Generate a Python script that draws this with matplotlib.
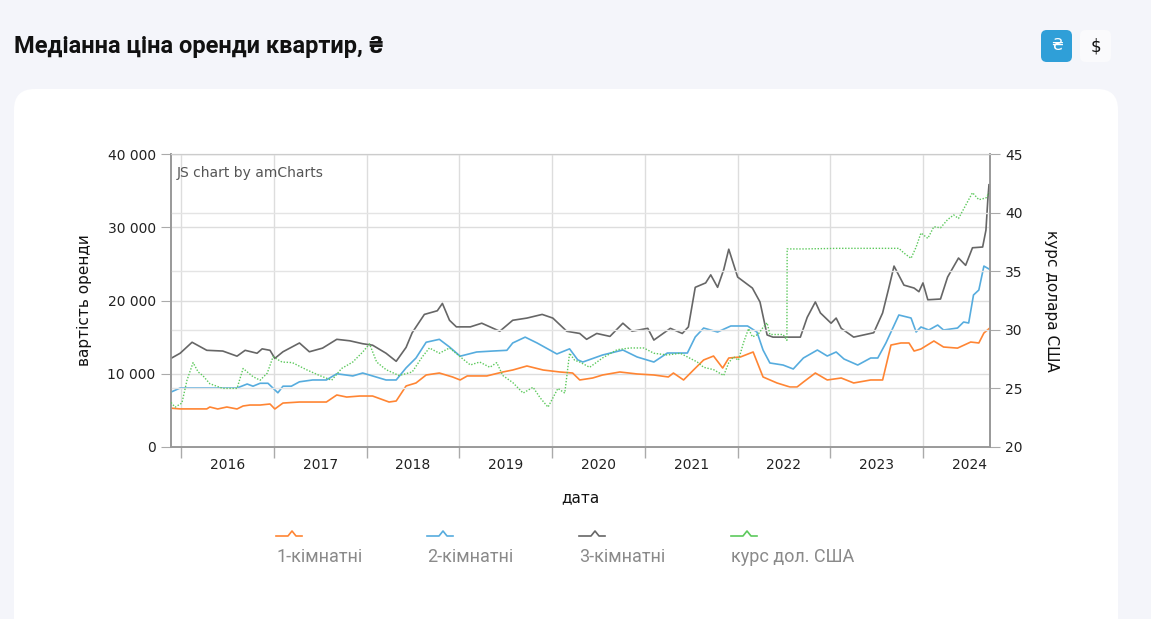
import numpy as np
import pandas as pd
import matplotlib
matplotlib.use("Agg")
import matplotlib.pyplot as plt
from matplotlib.patches import FancyBboxPatch
from matplotlib.lines import Line2D
from matplotlib.ticker import FuncFormatter, MultipleLocator

# --- data ---
room3_dates = ["2015-11-22", "2015-12-28", "2016-02-13", "2016-04-11", "2016-06-13", "2016-08-08",
               "2016-09-09", "2016-10-26", "2016-11-15", "2016-12-16", "2017-01-04", "2017-02-05",
               "2017-04-11", "2017-05-20", "2017-07-11", "2017-09-05", "2017-10-26", "2017-12-16",
               "2018-01-24", "2018-03-18", "2018-04-27", "2018-06-05", "2018-06-29", "2018-08-16",
               "2018-10-06", "2018-10-26", "2018-11-23", "2018-12-20", "2019-02-13", "2019-03-30",
               "2019-06-09", "2019-07-30", "2019-09-24", "2019-11-23", "2020-01-04", "2020-02-28",
               "2020-04-19", "2020-05-16", "2020-06-25", "2020-08-16", "2020-10-06", "2020-11-11",
               "2021-01-12", "2021-02-05", "2021-04-11", "2021-05-28", "2021-06-21", "2021-07-18",
               "2021-08-28", "2021-09-17", "2021-10-14", "2021-11-07", "2021-11-27", "2022-01-01",
               "2022-02-28", "2022-03-30", "2022-04-27", "2022-05-20", "2022-09-05", "2022-10-02",
               "2022-11-03", "2022-11-23", "2023-01-04", "2023-01-24", "2023-02-13", "2023-04-03",
               "2023-06-21", "2023-07-26", "2023-08-20", "2023-09-09", "2023-10-18", "2023-11-27",
               "2023-12-16", "2024-01-01", "2024-01-20", "2024-03-10", "2024-04-07", "2024-05-20",
               "2024-06-17", "2024-07-14", "2024-08-23", "2024-09-05", "2024-09-13", "2024-09-17"]
room3_vals = [12100, 12800, 14300, 13200, 13100, 12400,
              13200, 12800, 13400, 13200, 12100, 13000,
              14200, 13000, 13500, 14700, 14500, 14100,
              13900, 12800, 11700, 13600, 15600, 18100,
              18600, 19600, 17300, 16400, 16400, 16900,
              15800, 17300, 17600, 18100, 17600, 15800,
              15500, 14700, 15500, 15100, 16900, 15800,
              16200, 14600, 16200, 15500, 16400, 21800,
              22400, 23500, 21800, 24200, 27000, 23200,
              21700, 19800, 15300, 15000, 15000, 17700,
              19800, 18300, 16900, 17600, 16200, 15000,
              15600, 18300, 21800, 24700, 22100, 21700,
              21200, 22400, 20100, 20200, 23200, 25800,
              24800, 27200, 27300, 29600, 34100, 35800]

room2_dates = ["2015-11-22", "2015-12-28", "2016-06-02", "2016-08-08", "2016-09-17", "2016-10-10",
               "2016-11-07", "2016-12-08", "2017-01-16", "2017-02-05", "2017-03-10", "2017-04-11",
               "2017-06-02", "2017-07-26", "2017-09-05", "2017-11-07", "2017-12-16", "2018-01-24",
               "2018-03-18", "2018-04-27", "2018-06-05", "2018-07-14", "2018-08-23", "2018-10-14",
               "2018-11-23", "2019-01-04", "2019-03-10", "2019-05-12", "2019-07-07", "2019-07-30",
               "2019-09-17", "2019-11-03", "2020-01-20", "2020-03-10", "2020-04-11", "2020-05-01",
               "2020-07-18", "2020-10-06", "2020-12-01", "2021-02-05", "2021-03-30", "2021-06-17",
               "2021-07-18", "2021-08-20", "2021-10-14", "2021-12-05", "2022-02-09", "2022-03-18",
               "2022-04-11", "2022-05-08", "2022-06-29", "2022-08-08", "2022-09-17", "2022-11-11",
               "2022-12-20", "2023-01-24", "2023-02-24", "2023-04-19", "2023-06-09", "2023-07-07",
               "2023-08-08", "2023-09-28", "2023-11-15", "2023-12-05", "2023-12-24", "2024-01-24",
               "2024-02-28", "2024-03-22", "2024-05-16", "2024-06-09", "2024-06-29", "2024-07-18",
               "2024-08-08", "2024-08-28", "2024-09-17"]
room2_vals = [7500, 8050, 8050, 8050, 8600, 8300,
              8700, 8700, 7400, 8300, 8300, 8900,
              9150, 9150, 10000, 9700, 10100, 9700,
              9150, 9150, 10800, 12150, 14300, 14700,
              13650, 12400, 12970, 13100, 13200, 14200,
              15000, 14200, 12700, 13400, 11900, 11600,
              12560, 13240, 12290, 11600, 12830, 12830,
              15020, 16240, 15700, 16520, 16520, 15700,
              13240, 11470, 11190, 10650, 12150, 13240,
              12420, 12970, 12010, 11190, 12150, 12150,
              14200, 18020, 17610, 15700, 16380, 15970,
              16650, 15970, 16240, 17060, 16930, 20750,
              21430, 24700, 24300]

room1_dates = ["2015-11-22", "2015-12-28", "2016-04-11", "2016-04-23", "2016-05-24", "2016-06-29",
               "2016-08-08", "2016-09-01", "2016-09-28", "2016-11-07", "2016-12-16", "2017-01-04",
               "2017-02-05", "2017-04-11", "2017-07-26", "2017-09-05", "2017-10-14", "2017-12-05",
               "2018-01-24", "2018-03-30", "2018-04-27", "2018-06-05", "2018-07-14", "2018-08-23",
               "2018-10-14", "2018-12-05", "2019-01-04", "2019-02-01", "2019-04-19", "2019-06-21",
               "2019-07-30", "2019-09-24", "2019-11-27", "2020-02-01", "2020-03-22", "2020-04-19",
               "2020-06-09", "2020-07-18", "2020-09-24", "2020-12-01", "2021-02-05", "2021-04-03",
               "2021-04-23", "2021-06-02", "2021-07-11", "2021-08-20", "2021-09-28", "2021-11-03",
               "2021-11-27", "2022-01-12", "2022-03-03", "2022-04-11", "2022-06-05", "2022-07-26",
               "2022-08-23", "2022-09-17", "2022-11-03", "2022-12-20", "2023-02-13", "2023-04-03",
               "2023-06-09", "2023-07-26", "2023-08-28", "2023-10-06", "2023-11-07", "2023-11-27",
               "2023-12-24", "2024-02-13", "2024-03-22", "2024-05-16", "2024-07-07", "2024-08-08",
               "2024-08-28", "2024-09-20"]
room1_vals = [5300, 5200, 5200, 5460, 5190, 5460,
              5190, 5600, 5730, 5730, 5870, 5190,
              6000, 6140, 6140, 7100, 6820, 6960,
              6960, 6140, 6280, 8330, 8740, 9830,
              10100, 9560, 9150, 9700, 9700, 10240,
              10510, 11060, 10510, 10240, 10100, 9150,
              9420, 9830, 10240, 9970, 9830, 9560,
              10100, 9150, 10510, 11880, 12420, 10780,
              12150, 12290, 12970, 9560, 8740, 8190,
              8190, 8870, 10100, 9150, 9420, 8740,
              9150, 9150, 13920, 14200, 14200, 13100,
              13380, 14470, 13650, 13500, 14330, 14200,
              15560, 16240]

usd_dates = ["2015-11-22", "2015-12-08", "2016-01-04", "2016-01-24", "2016-02-17", "2016-03-08",
             "2016-03-26", "2016-04-23", "2016-06-13", "2016-08-08", "2016-09-01", "2016-10-10",
             "2016-11-07", "2016-12-05", "2016-12-28", "2017-02-01", "2017-03-14", "2017-05-08",
             "2017-06-29", "2017-08-16", "2017-09-24", "2017-11-07", "2017-12-16", "2018-01-12",
             "2018-02-09", "2018-03-18", "2018-05-08", "2018-06-29", "2018-08-08", "2018-09-05",
             "2018-10-14", "2018-11-23", "2019-01-04", "2019-02-13", "2019-03-22", "2019-05-01",
             "2019-05-28", "2019-06-21", "2019-07-30", "2019-09-09", "2019-10-18", "2019-11-15",
             "2019-12-16", "2020-01-24", "2020-02-20", "2020-03-10", "2020-03-30", "2020-04-19",
             "2020-05-28", "2020-07-18", "2020-09-13", "2020-11-03", "2020-12-27", "2021-02-05",
             "2021-03-30", "2021-05-20", "2021-07-26", "2021-08-20", "2021-09-28", "2021-11-07",
             "2021-11-27", "2021-12-16", "2022-01-04", "2022-01-24", "2022-02-13", "2022-02-28",
             "2022-03-22", "2022-04-11", "2022-04-27", "2022-05-08", "2022-06-29", "2022-07-14",
             "2022-07-15", "2022-09-17", "2023-02-01", "2023-06-09", "2023-09-28", "2023-10-18",
             "2023-11-15", "2023-12-05", "2023-12-24", "2024-01-20", "2024-02-13", "2024-03-10",
             "2024-04-07", "2024-05-01", "2024-05-20", "2024-07-14", "2024-08-08", "2024-09-05",
             "2024-09-17"]
usd_vals = [23.8, 23.4, 23.75, 25.7, 27.2, 26.4,
            26.1, 25.4, 25.0, 25.0, 26.7, 26.0,
            25.7, 26.3, 27.7, 27.25, 27.2, 26.6,
            26.1, 25.7, 26.7, 27.25, 28.1, 28.8,
            27.25, 26.6, 26.1, 26.4, 27.7, 28.45,
            28.0, 28.45, 27.7, 27.0, 27.25, 26.8,
            27.2, 26.1, 25.5, 24.6, 25.1, 24.2,
            23.4, 25.0, 24.6, 28.0, 27.4, 27.25,
            26.8, 27.6, 28.3, 28.45, 28.45, 28.0,
            27.85, 28.0, 27.25, 26.8, 26.6, 26.1,
            27.2, 27.7, 27.4, 28.9, 30.1, 29.4,
            29.6, 30.2, 30.6, 29.6, 29.6, 29.1,
            36.9, 36.9, 36.95, 36.95, 36.95, 36.55,
            36.1, 37.06, 38.26, 37.8, 38.8, 38.7,
            39.4, 39.8, 39.5, 41.7, 41.1, 41.25,
            41.7]

legend_labels = ["1-кімнатні", "2-кімнатні", "3-кімнатні", "курс дол. США"]
colors = ["#ff8533", "#56acde", "#666666", "#5cc95c"]
years = list(range(2016, 2025))

W, H = 1151, 619
fig = plt.figure(figsize=(W / 100, H / 100), dpi=100)
fig.patch.set_facecolor("#f4f5fa")

def fx(px):
    return px / W

def fy(py):
    return 1 - py / H

# white card
card = FancyBboxPatch((fx(14), fy(660)), fx(1104), (660 - 89) / H,
                      boxstyle="round,pad=0,rounding_size=0.018", transform=fig.transFigure,
                      facecolor="white", edgecolor="none", mutation_aspect=W / H, zorder=0)
fig.add_artist(card)

# title and currency buttons
fig.text(fx(14), fy(46), "Медіанна ціна оренди квартир, ₴", fontsize=17, fontweight="bold",
         family=["Roboto", "DejaVu Sans"], color="#111111", va="center", ha="left")
btn1 = FancyBboxPatch((fx(1041), fy(62)), fx(31), 32 / H, boxstyle="round,pad=0,rounding_size=0.005",
                      transform=fig.transFigure, facecolor="#2f9fd8", edgecolor="none", mutation_aspect=W / H)
btn2 = FancyBboxPatch((fx(1080), fy(62)), fx(31), 32 / H, boxstyle="round,pad=0,rounding_size=0.005",
                      transform=fig.transFigure, facecolor="#fafafc", edgecolor="none", mutation_aspect=W / H)
fig.add_artist(btn1)
fig.add_artist(btn2)
fig.text(fx(1056.5), fy(46), "₴", fontsize=11, color="white", ha="center", va="center",
         family=["DejaVu Sans"])
fig.text(fx(1095.5), fy(46), "$", fontsize=12, color="#111111", ha="center", va="center",
         family=["DejaVu Sans"])

# plot area
ax = fig.add_axes([fx(171), fy(447), fx(990 - 171), (447 - 154) / H])
ax.set_facecolor("none")
ax2 = ax.twinx()

def to_dt(lst):
    return pd.to_datetime(lst)

ax.plot(to_dt(room1_dates), room1_vals, color=colors[0], lw=1.2, zorder=3)
ax.plot(to_dt(room2_dates), room2_vals, color=colors[1], lw=1.2, zorder=3)
ax.plot(to_dt(room3_dates), room3_vals, color=colors[2], lw=1.2, zorder=3)
ax2.plot(to_dt(usd_dates), usd_vals, color=colors[3], lw=1.0, ls=(0, (1, 1.2)), zorder=3)

ax.set_xlim(pd.Timestamp("2015-11-22"), pd.Timestamp("2024-09-21"))
ax.set_ylim(0, 40000)
ax2.set_ylim(20, 45)
ax.yaxis.set_major_locator(MultipleLocator(10000))
ax2.yaxis.set_major_locator(MultipleLocator(5))
ax.yaxis.set_major_formatter(FuncFormatter(lambda v, p: f"{int(v):,}".replace(",", " ")))

ax.set_xticks([pd.Timestamp(f"{y}-01-01") for y in years])
ax.set_xticks([pd.Timestamp(f"{y}-07-02") for y in years], minor=True)
ax.set_xticklabels([])
ax.set_xticklabels([str(y) for y in years], minor=True)
ax.tick_params(axis="x", which="major", length=8, color="#aaaaaa", width=1)
ax.tick_params(axis="x", which="minor", length=0, labelsize=10, pad=8, colors="#222222")
ax.tick_params(axis="y", length=7, color="#aaaaaa", labelsize=10, labelcolor="#222222", pad=4)
ax2.tick_params(axis="y", length=7, color="#aaaaaa", labelsize=10, labelcolor="#222222", pad=4)

ax.grid(True, which="major", color="#dddddd", lw=1)
ax2.grid(True, axis="y", color="#e4e4e4", lw=1)
ax2.set_axisbelow(True)
ax.set_axisbelow(True)

for a in (ax, ax2):
    for side in ("left", "right", "bottom"):
        a.spines[side].set_color("#999999")
        a.spines[side].set_linewidth(1.2)
    a.spines["top"].set_color("#cccccc")

ax.set_ylabel("вартість оренди", fontsize=11, color="#111111", labelpad=11)
ax2.set_ylabel("курс долара США", fontsize=11, color="#111111", rotation=-90, labelpad=26)
ax.set_xlabel("дата", fontsize=11, color="#111111", labelpad=13)
ax.text(0.007, 0.96, "JS chart by amCharts", transform=ax.transAxes, fontsize=10,
        color="#555555", ha="left", va="top")

# legend with amCharts-style markers
leg_x = [276, 427, 579, 731]
for x0, lab, c in zip(leg_x, legend_labels, colors):
    xs = [x0, x0 + 12, x0 + 16, x0 + 20, x0 + 26]
    ys = [536, 536, 531, 536, 536]
    fig.add_artist(Line2D([fx(v) for v in xs], [fy(v) for v in ys], color=c, lw=1.2,
                          transform=fig.transFigure))
    fig.text(fx(x0), fy(557), lab, fontsize=13, color="#8a8a8a", ha="left", va="center",
             family=["Roboto", "DejaVu Sans"])

fig.savefig("out.png", dpi=100, facecolor=fig.get_facecolor())
